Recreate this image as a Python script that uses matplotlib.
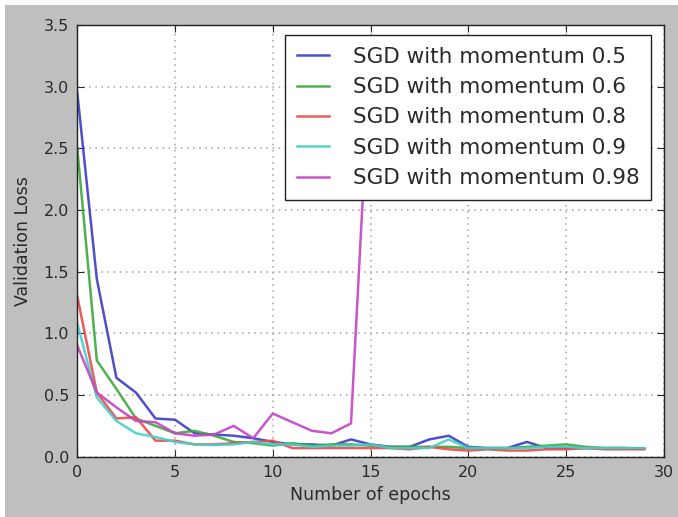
#!/usr/bin/env python3
"""
Validation loss vs epochs for SGD with different momentum values.
"""

import matplotlib
matplotlib.use('Agg')  # Non-interactive backend
import matplotlib.pyplot as plt
from matplotlib.patches import Rectangle

# Values
epochs = list(range(30))

loss_m05 = [2.95, 1.44, 0.64, 0.52, 0.31, 0.30, 0.19, 0.18, 0.17, 0.15,
            0.12, 0.10, 0.10, 0.09, 0.14, 0.10, 0.08, 0.08, 0.14, 0.17,
            0.08, 0.07, 0.07, 0.12, 0.07, 0.07, 0.07, 0.07, 0.07, 0.065]
loss_m06 = [2.50, 0.78, 0.55, 0.31, 0.25, 0.19, 0.21, 0.17, 0.12, 0.11,
            0.09, 0.11, 0.09, 0.10, 0.10, 0.09, 0.08, 0.08, 0.08, 0.08,
            0.07, 0.07, 0.07, 0.08, 0.09, 0.10, 0.08, 0.07, 0.07, 0.065]
loss_m08 = [1.30, 0.52, 0.31, 0.32, 0.13, 0.13, 0.10, 0.10, 0.11, 0.12,
            0.13, 0.07, 0.07, 0.07, 0.07, 0.07, 0.07, 0.06, 0.08, 0.06,
            0.05, 0.06, 0.05, 0.05, 0.06, 0.06, 0.07, 0.06, 0.06, 0.06]
loss_m09 = [1.08, 0.48, 0.29, 0.19, 0.16, 0.12, 0.10, 0.095, 0.10, 0.12,
            0.10, 0.10, 0.08, 0.09, 0.09, 0.10, 0.07, 0.07, 0.07, 0.14,
            0.07, 0.07, 0.07, 0.07, 0.08, 0.08, 0.07, 0.07, 0.07, 0.07]
# momentum 0.98 diverges after epoch 14 (rest hidden behind the legend)
loss_m098 = [0.90, 0.52, 0.40, 0.29, 0.28, 0.19, 0.17, 0.18, 0.25, 0.15,
             0.35, 0.28, 0.21, 0.19, 0.27, 3.30]

series = [
    ('SGD with momentum 0.5', loss_m05, '#3c3cc4'),
    ('SGD with momentum 0.6', loss_m06, '#3ca83c'),
    ('SGD with momentum 0.8', loss_m08, '#f04848'),
    ('SGD with momentum 0.9', loss_m09, '#44d0c8'),
    ('SGD with momentum 0.98', loss_m098, '#c444c4'),
]

text_color = '#2a2a2a'
bg_gray = '#bfbfbf'

fig = plt.figure(figsize=(6.78, 5.17), dpi=100, facecolor='white')
# gray figure background with a thin white strip at the top and left
fig.patches.append(Rectangle((5 / 678, 0), 1, 1 - 5 / 517,
                             transform=fig.transFigure, facecolor=bg_gray,
                             edgecolor='none', zorder=-10))

ax = fig.add_axes([0.114, 0.1166, 0.865, 0.835])

for label, values, color in series:
    ax.plot(epochs[:len(values)], values, color=color, linewidth=1.8,
            alpha=0.9, label=label)

ax.set_xlim(0, 30)
ax.set_ylim(0, 3.5)
ax.set_xticks(range(0, 31, 5))
ax.set_yticks([i * 0.5 for i in range(8)])
ax.yaxis.set_major_formatter(matplotlib.ticker.FormatStrFormatter('%.1f'))

ax.grid(True, color='#a0a0a0', linestyle=(0, (1, 3)), linewidth=1.1)
ax.tick_params(direction='in', top=True, right=True, length=5,
               labelsize=11.5, colors=text_color, pad=6)
for spine in ax.spines.values():
    spine.set_linewidth(1.0)
    spine.set_color('#222222')

ax.set_xlabel('Number of epochs', fontsize=12.5, color=text_color, labelpad=4)
ax.set_ylabel('Validation Loss', fontsize=12.5, color=text_color, labelpad=8)

leg = ax.legend(loc='upper right', bbox_to_anchor=(0.9785, 0.977),
                fontsize=15.5, frameon=True, fancybox=False, framealpha=1,
                edgecolor='#222222', handlelength=1.5, handletextpad=1.1,
                borderpad=0.55, labelspacing=0.48, borderaxespad=0)
leg.get_frame().set_linewidth(1.0)
for line in leg.get_lines():
    line.set_linewidth(1.8)
for txt in leg.get_texts():
    txt.set_color(text_color)

plt.savefig('out.png', dpi=100, facecolor=fig.get_facecolor())
plt.close()
